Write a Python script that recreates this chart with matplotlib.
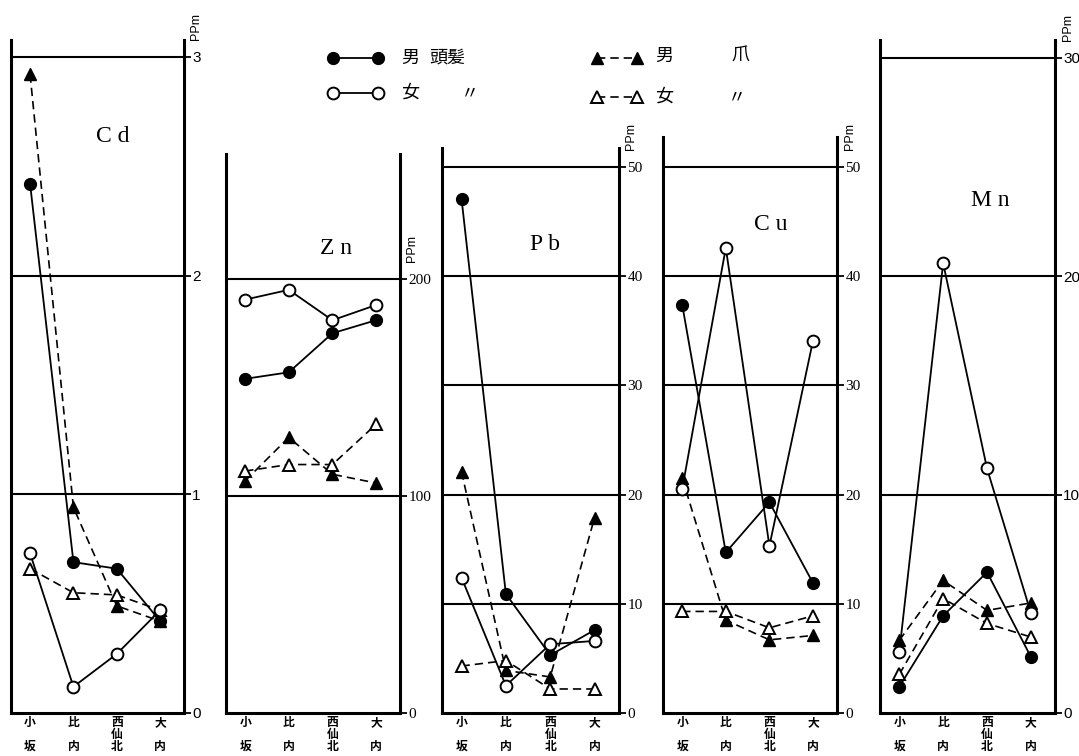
import matplotlib
matplotlib.use("Agg")
import matplotlib.pyplot as plt

plt.rcParams['font.family'] = ['Noto Sans CJK JP', 'DejaVu Sans']

# ---------------- data ----------------
categories = ['小\n\n坂', '比\n\n内', '西\n仙\n北', '大\n\n内']
elements = ['Cd', 'Zn', 'Pb', 'Cu', 'Mn']

cd_m_hair = [2.42, 0.69, 0.66, 0.42]
cd_f_hair = [0.73, 0.12, 0.27, 0.47]
cd_m_nail = [2.92, 0.94, 0.49, 0.42]
cd_f_nail = [0.66, 0.55, 0.54, 0.47]

zn_m_hair = [154, 157, 175, 181]
zn_f_hair = [190.5, 195, 181, 188]
zn_m_nail = [107, 127, 110, 106]
zn_f_nail = [111.5, 114.5, 114.5, 133]

pb_m_hair = [47.1, 10.9, 5.3, 7.6]
pb_f_hair = [12.4, 2.5, 6.3, 6.6]
pb_m_nail = [22.1, 3.9, 3.3, 17.9]
pb_f_nail = [4.3, 4.8, 2.2, 2.2]

cu_m_hair = [37.4, 14.7, 19.3, 11.9]
cu_f_hair = [20.5, 42.6, 15.3, 34.1]
cu_m_nail = [21.5, 8.5, 6.7, 7.1]
cu_f_nail = [9.3, 9.3, 7.8, 8.9]

mn_m_hair = [1.2, 4.45, 6.45, 2.57]
mn_f_hair = [2.8, 20.6, 11.2, 4.58]
mn_m_nail = [3.33, 6.07, 4.7, 5.04]
mn_f_nail = [1.77, 5.24, 4.1, 3.48]

cd_ticks = [0, 1, 2, 3]
zn_ticks = [0, 100, 200]
pb_ticks = [0, 10, 20, 30, 40, 50]
cu_ticks = [0, 10, 20, 30, 40, 50]
mn_ticks = [0, 10, 20, 30]

legend_labels = ['男', '頭髪', '女', '〃', '男', '爪', '女', '〃']

series = {
    'Cd': (cd_m_hair, cd_f_hair, cd_m_nail, cd_f_nail, cd_ticks),
    'Zn': (zn_m_hair, zn_f_hair, zn_m_nail, zn_f_nail, zn_ticks),
    'Pb': (pb_m_hair, pb_f_hair, pb_m_nail, pb_f_nail, pb_ticks),
    'Cu': (cu_m_hair, cu_f_hair, cu_m_nail, cu_f_nail, cu_ticks),
    'Mn': (mn_m_hair, mn_f_hair, mn_m_nail, mn_f_nail, mn_ticks),
}

# ---------------- layout (pixels) ----------------
W, H = 1079, 756
Y0 = 713  # pixel of value 0
layout = {
    # x_left, x_right, y_top_of_frame, y_of_top_tick, title_x, title_y, tick font
    'Cd': (11, 184, 40, 57, 113, 137, 'Liberation Sans'),
    'Zn': (226, 400, 154, 279, 336, 249, 'Liberation Serif'),
    'Pb': (442, 619, 148, 167, 545, 245, 'Liberation Serif'),
    'Cu': (663, 837, 137, 167, 771, 225, 'Liberation Serif'),
    'Mn': (880, 1055, 40, 58, 990, 200, 'Liberation Sans'),
}

fig = plt.figure(figsize=(W / 100, H / 100), dpi=100)
overlay = fig.add_axes([0, 0, 1, 1])
overlay.set_xlim(0, W)
overlay.set_ylim(H, 0)
overlay.axis('off')

xs = list(range(len(categories)))
dash = (0, (5, 3))

for el in elements:
    m_hair, f_hair, m_nail, f_nail, ticks = series[el]
    x0, x1, ytop, ytick, tx, ty, tfont = layout[el]
    ax = fig.add_axes([x0 / W, 1 - Y0 / H, (x1 - x0) / W, (Y0 - ytop) / H])
    ax.set_facecolor('none')
    tmax = ticks[-1]
    ax.set_ylim(0, tmax * (Y0 - ytop) / (Y0 - ytick))
    ax.set_xlim(-0.44, 3.55)
    for s in ['left', 'right', 'bottom']:
        ax.spines[s].set_linewidth(2.2)
    ax.spines['top'].set_visible(False)
    for t in ticks[1:]:
        ax.axhline(t, color='black', lw=1.5, zorder=1)
    ax.yaxis.tick_right()
    ax.set_yticks(ticks)
    ax.set_yticklabels([str(t) for t in ticks], fontfamily=tfont, fontsize=11)
    ax.tick_params(axis='y', length=5, width=1.3, pad=1, direction='out')
    ax.set_xticks(xs)
    ax.set_xticklabels(categories, fontsize=8.5, linespacing=0.92,
                       fontweight='bold', va='top')
    ax.tick_params(axis='x', length=0, pad=2)

    ax.plot(xs, m_nail, linestyle=dash, color='black', lw=1.2, marker='^',
            ms=9, mfc='black', mec='black', zorder=3, clip_on=False)
    ax.plot(xs, f_nail, linestyle=dash, color='black', lw=1.2, marker='^',
            ms=9, mfc='white', mec='black', mew=1.4, zorder=3, clip_on=False)
    ax.plot(xs, m_hair, linestyle='-', color='black', lw=1.3, marker='o',
            ms=8.5, mfc='black', mec='black', zorder=4, clip_on=False)
    ax.plot(xs, f_hair, linestyle='-', color='black', lw=1.3, marker='o',
            ms=8.5, mfc='white', mec='black', mew=1.4, zorder=4, clip_on=False)

    ax.annotate('PPm', xy=(1, tmax), xycoords=('axes fraction', 'data'),
                xytext=(9, 22), textcoords='offset points', rotation=90,
                ha='center', va='center', fontsize=9,
                fontfamily='Liberation Sans')
    overlay.text(tx, ty, el[0] + ' ' + el[1], fontsize=17,
                 fontfamily='Liberation Serif', ha='center', va='center')

# ---------------- legend ----------------
lx = [333, 378]
rx = [597, 637]
overlay.plot(lx, [58, 58], '-', color='black', lw=1.3, marker='o', ms=8.5,
             mfc='black', mec='black')
overlay.plot(lx, [93, 93], '-', color='black', lw=1.3, marker='o', ms=8.5,
             mfc='white', mec='black', mew=1.4)
overlay.plot(rx, [58, 58], linestyle=dash, color='black', lw=1.2, marker='^',
             ms=9, mfc='black', mec='black')
overlay.plot(rx, [97, 97], linestyle=dash, color='black', lw=1.2, marker='^',
             ms=9, mfc='white', mec='black', mew=1.4)
lab_pos = [(410, 58), (447, 58), (410, 93), (470, 93),
           (664, 56), (740, 56), (664, 97), (737, 97)]
for lab, (px, py) in zip(legend_labels, lab_pos):
    overlay.text(px, py, lab, fontsize=13, ha='center', va='center')

fig.savefig('out.png', dpi=100)
